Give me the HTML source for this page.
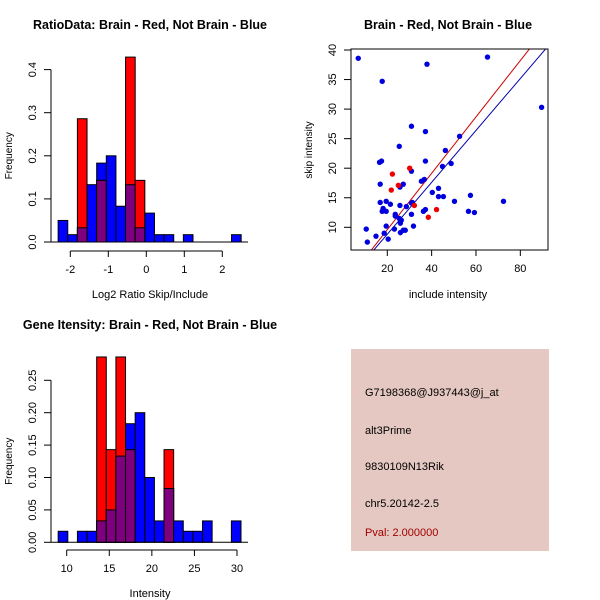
<!DOCTYPE html>
<html><head><meta charset="utf-8"><style>
html,body{margin:0;padding:0;background:#fff}
svg{display:block;font-family:"Liberation Sans",sans-serif}
</style></head><body>
<svg id="s" width="600" height="600" viewBox="0 0 600 600" xmlns="http://www.w3.org/2000/svg">
<rect x="0" y="0" width="600" height="600" fill="#fff"/>
<g id="p1"></g>
<g id="p2"></g>
<g id="p3"></g>
<g>
<rect x="351" y="349" width="198" height="202" fill="#e5c8c1"/>
<text x="365" y="396" font-size="11">G7198368@J937443@j_at</text>
<text x="365" y="434" font-size="11">alt3Prime</text>
<text x="365" y="470" font-size="11">9830109N13Rik</text>
<text x="365" y="507" font-size="11">chr5.20142-2.5</text>
<text x="365" y="536" font-size="11" fill="#a00000">Pval: 2.000000</text>
</g>
</svg>
<script>
// ---- Panel 1 data
const h1Start = -2.32, h1Width = 0.2535;
const h1Blue = [0.05,0.017,0.033,0.133,0.183,0.2,0.083,0.133,0.033,0.067,0.017,0.017,0,0.017,0,0,0,0,0.017];
const h1Red  = [0,0,0.286,0,0.143,0,0,0.429,0.143,0,0,0,0,0,0,0,0,0,0];
const h1XTicks = [-2,-1,0,1,2];
const h1YTicks = [0,0.1,0.2,0.3,0.4];
// ---- Panel 3 data
const h3Start = 9.0, h3Width = 1.13;
const h3Blue = [0.017,0,0.017,0.017,0.033,0.05,0.133,0.183,0.2,0.1,0.033,0.083,0.033,0.017,0.017,0.033,0,0,0.033];
const h3Red  = [0,0,0,0,0.286,0.143,0.286,0.143,0,0,0,0.143,0,0,0,0,0,0,0];
const h3XTicks = [10,15,20,25,30];
const h3YTicks = [0,0.05,0.10,0.15,0.20,0.25];
const h3YLabels = ["0.00","0.05","0.10","0.15","0.20","0.25"];
// ---- Panel 2 data
const blueX = [6.9,17.7,37.9,65.2,89.6,30.9,37.2,25.4,52.6,46.2,16.5,17.4,37.2,44.9,48.8,30.9,16.8,27.2,25.7,35.4,36.7,43.1,40.3,43.1,45.3,57.5,50.3,72.4,16.8,19.5,21.4,25.7,28.6,30.9,31.3,17.7,19.5,18.1,36.3,37.2,56.6,59.3,23.6,23.6,30.9,25.4,26.3,25.9,19.5,31.8,10.5,23.2,27.2,28.1,25.9,18.6,14.9,20.4,11.0];
const blueY = [38.6,34.7,37.6,38.8,30.3,27.1,26.2,23.7,25.4,23.0,21.0,21.2,21.2,20.3,20.8,19.5,17.3,17.3,16.8,17.8,18.1,16.6,15.9,15.2,15.2,15.4,14.4,14.4,14.2,14.4,13.9,13.7,13.5,14.1,14.2,12.7,12.7,13.2,12.7,13.0,12.7,12.5,12.2,11.9,12.2,11.5,11.2,10.7,10.2,10.2,9.7,9.7,9.5,9.5,9.1,9.0,8.5,8.0,7.5];
const redX = [30.1,22.3,25.0,21.8,32.2,42.2,38.5];
const redY = [20.0,19.0,17.1,16.3,13.7,13.0,11.7];
const redLine = [0.05,0.477];   // intercept, slope
const blueLine = [0.05,0.439];
const scXTicks = [20,40,60,80];
const scYTicks = [10,15,20,25,30,35,40];

const NS="http://www.w3.org/2000/svg";
function mk(parent,tag,attrs,name){
  const e=document.createElementNS(NS,tag);
  for(const k in attrs) e.setAttribute(k,attrs[k]);
  
  
  parent.appendChild(e);return e;
}
function txt(parent,x,y,s,size,name,extra){
  const t=mk(parent,'text',Object.assign({x:x,y:y,'font-size':size,'text-anchor':'middle'},extra||{}),name);
  t.textContent=s;return t;
}

function hist(g,oy,start,width,blue,red,sx,sy,xt,yt,ylab,title,xlabel,xAxisY){
  txt(g,150,oy+29,title,12.5,'chart-title',{'font-weight':'bold'});
  for(let i=0;i<blue.length;i++){
    const x0=sx(start+i*width), x1=sx(start+(i+1)*width);
    const b=blue[i], r=red[i], m=Math.min(b,r);
    if(b>0) mk(g,'rect',{x:x0,y:sy(b),width:x1-x0,height:sy(0)-sy(b),fill:'#0000ff',stroke:'#000','stroke-width':1},'bar-blue');
    if(r>0) mk(g,'rect',{x:x0,y:sy(r),width:x1-x0,height:sy(0)-sy(r),fill:'#ff0000',stroke:'#000','stroke-width':1},'bar-red');
    if(m>0) mk(g,'rect',{x:x0,y:sy(m),width:x1-x0,height:sy(0)-sy(m),fill:'#7f007f',stroke:'#000','stroke-width':1},'bar-overlap');
  }
  mk(g,'line',{x1:51,x2:248,y1:sy(0),y2:sy(0),stroke:'#000'},'baseline');
  mk(g,'line',{x1:51,x2:51,y1:sy(yt[0]),y2:sy(yt[yt.length-1]),stroke:'#000'},'y-axis');
  yt.forEach((v,i)=>{
    mk(g,'line',{x1:44,x2:51,y1:sy(v),y2:sy(v),stroke:'#000'},'y-tick');
    txt(g,36,sy(v),ylab[i],11,'y-tick-label',{transform:`rotate(-90 36 ${sy(v)})`});
  });
  const my=(sy(yt[0])+sy(yt[yt.length-1]))/2;
  txt(g,12,my,'Frequency',10,'y-axis-title',{transform:`rotate(-90 12 ${my})`});
  mk(g,'line',{x1:sx(xt[0]),x2:sx(xt[xt.length-1]),y1:xAxisY,y2:xAxisY,stroke:'#000'},'x-axis');
  xt.forEach(v=>{
    mk(g,'line',{x1:sx(v),x2:sx(v),y1:xAxisY,y2:xAxisY+6,stroke:'#000'},'x-tick');
    txt(g,sx(v),xAxisY+22,String(v),11,'x-tick-label');
  });
  txt(g,150,xAxisY+47,xlabel,11,'x-axis-title');
}

// Panel 1
{
  const g=document.getElementById('p1');
  const sx=v=>146.3+v*38;
  const sy=v=>242-v*431;
  hist(g,0,h1Start,h1Width,h1Blue,h1Red,sx,sy,h1XTicks,h1YTicks,h1YTicks.map(v=>v.toFixed(1)),
    'RatioData: Brain - Red, Not Brain - Blue','Log2 Ratio Skip/Include',251);
}
// Panel 3
{
  const g=document.getElementById('p3');
  const sx=v=>66.7+(v-10)*8.515;
  const sy=v=>542.3-v*648;
  hist(g,300,h3Start,h3Width,h3Blue,h3Red,sx,sy,h3XTicks,h3YTicks,h3YLabels,
    'Gene Itensity: Brain - Red, Not Brain - Blue','Intensity',550);
}
// Panel 2
{
  const g=document.getElementById('p2');
  const sx=v=>387.3+(v-20)*2.217;
  const sy=v=>50+(40-v)*5.91;
  txt(g,448,29,'Brain - Red, Not Brain - Blue',12.5,'chart-title',{'font-weight':'bold'});
  const defs=mk(g,'defs',{},'defs');
  const clip=mk(defs,'clipPath',{id:'cp'},'plot-clip');
  mk(clip,'rect',{x:351,y:49,width:197,height:201},'clip-rect');
  [[blueLine,'#0000aa'],[redLine,'#cc0000']].forEach(([ln,c])=>{
    const x0=0,x1=100;
    mk(g,'line',{x1:sx(x0),y1:sy(ln[0]+ln[1]*x0),x2:sx(x1),y2:sy(ln[0]+ln[1]*x1),stroke:c,'stroke-width':1,'clip-path':'url(#cp)'},'regression-line');
  });
  blueX.forEach((x,i)=>mk(g,'circle',{cx:sx(x),cy:sy(blueY[i]),r:2.7,fill:'#0000dd'},'point-not-brain'));
  redX.forEach((x,i)=>mk(g,'circle',{cx:sx(x),cy:sy(redY[i]),r:2.7,fill:'#ee0000'},'point-brain'));
  mk(g,'rect',{x:351,y:49,width:197,height:201,fill:'none',stroke:'#000'},'plot-frame');
  scXTicks.forEach(v=>{
    mk(g,'line',{x1:sx(v),x2:sx(v),y1:250,y2:256,stroke:'#000'},'x-tick');
    txt(g,sx(v),272,String(v),11,'x-tick-label');
  });
  scYTicks.forEach(v=>{
    mk(g,'line',{x1:344,x2:351,y1:sy(v),y2:sy(v),stroke:'#000'},'y-tick');
    txt(g,336,sy(v),String(v),11,'y-tick-label',{transform:`rotate(-90 336 ${sy(v)})`});
  });
  txt(g,448,298,'include intensity',11,'x-axis-title');
  txt(g,312,150,'skip intensity',10,'y-axis-title',{transform:'rotate(-90 312 150)'});
}
</script>
</body></html>
